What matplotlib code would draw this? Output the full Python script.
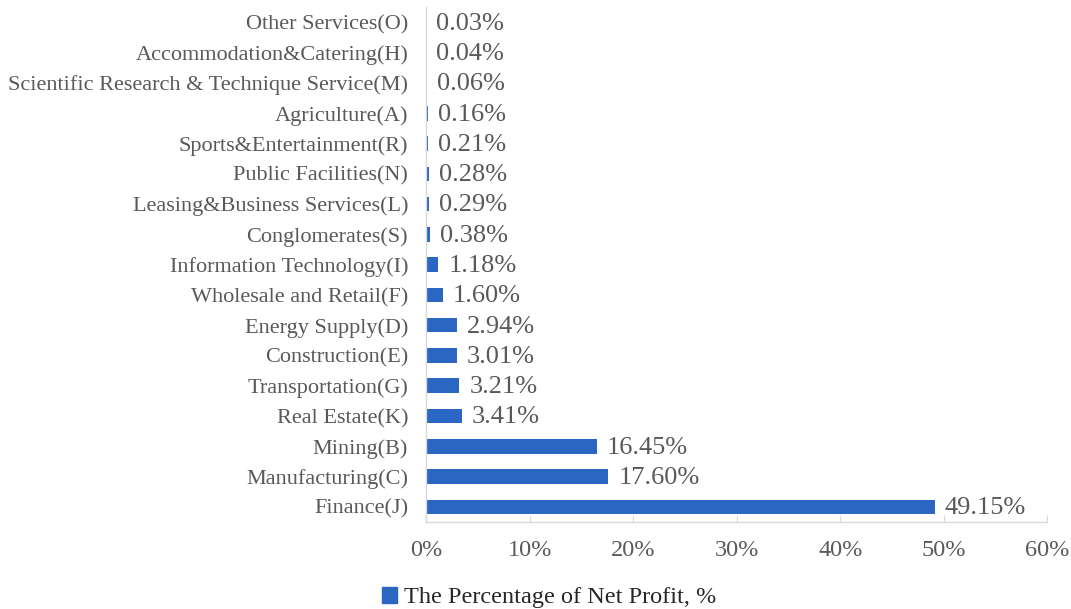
import matplotlib.pyplot as plt
from matplotlib.patches import Patch
from matplotlib.ticker import FuncFormatter

# Share of net profit by industry (%)
industries = ['Finance(J)', 'Manufacturing(C)', 'Mining(B)', 'Real Estate(K)',
              'Transportation(G)', 'Construction(E)', 'Energy Supply(D)',
              'Wholesale and Retail(F)', 'Information Technology(I)',
              'Conglomerates(S)', 'Leasing&Business Services(L)',
              'Public Facilities(N)', 'Sports&Entertainment(R)', 'Agriculture(A)',
              'Scientific Research & Technique Service(M)',
              'Accommodation&Catering(H)', 'Other Services(O)']
shares = [49.15, 17.60, 16.45, 3.41, 3.21, 3.01, 2.94, 1.60, 1.18,
          0.38, 0.29, 0.28, 0.21, 0.16, 0.06, 0.04, 0.03]
x_ticks = [0, 10, 20, 30, 40, 50, 60]

plt.rcParams['font.family'] = ['Liberation Serif', 'DejaVu Serif']
grey = '#595959'
blue = '#2B66C2'

fig = plt.figure(figsize=(10.71, 6.09), dpi=100)
ax = fig.add_axes([0.398, 0.143, 0.58, 0.845])

bars = ax.barh(range(len(industries)), shares, height=0.48, color=blue)
ax.set_yticks(range(len(industries)))
ax.set_yticklabels(industries, fontsize=16, color=grey)
ax.set_ylim(-0.5, len(industries) - 0.5)

ax.set_xlim(0, 60)
ax.set_xticks(x_ticks)
ax.xaxis.set_major_formatter(FuncFormatter(lambda v, p: f'{v:.0f}%'))
ax.tick_params(axis='x', direction='in', length=5, color='#D9D9D9',
               labelsize=17.5, labelcolor=grey, pad=13)
ax.tick_params(axis='y', length=0, pad=13)

for side in ['top', 'right']:
    ax.spines[side].set_visible(False)
for side in ['left', 'bottom']:
    ax.spines[side].set_color('#D9D9D9')
    ax.spines[side].set_linewidth(1.0)

for bar, val in zip(bars, shares):
    ax.annotate(f'{val:.2f}%', xy=(val, bar.get_y() + bar.get_height() / 2),
                xytext=(7, -1), textcoords='offset points', ha='left', va='center',
                fontsize=19, color=grey)

fig.legend(handles=[Patch(color=blue, label='The Percentage of Net Profit, %')],
           loc='lower center', bbox_to_anchor=(0.513, -0.035), frameon=False,
           fontsize=17.5, handlelength=0.6, handleheight=0.6, handletextpad=0.3,
           labelcolor='#262626')

fig.savefig('out.png', dpi=100)
